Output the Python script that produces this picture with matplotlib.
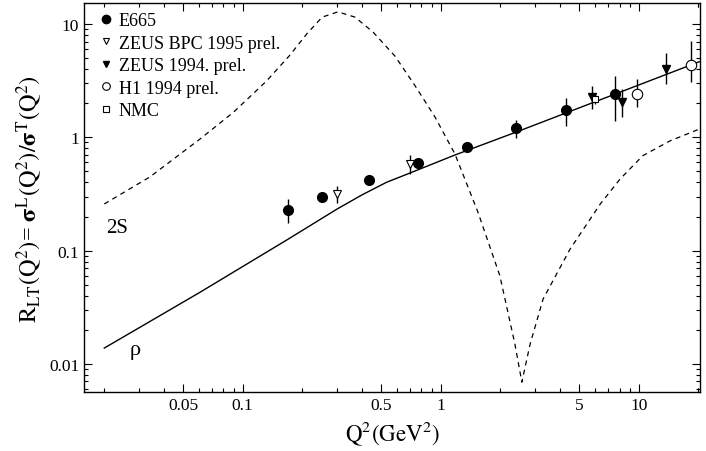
import numpy as np
import matplotlib
matplotlib.use("Agg")
import matplotlib.pyplot as plt
from matplotlib.lines import Line2D
from matplotlib.ticker import FixedLocator, NullFormatter

plt.rcParams['font.family'] = ['Liberation Serif', 'DejaVu Serif']
plt.rcParams['mathtext.fontset'] = 'stix'

# E665
e665_q2 = [0.170, 0.252, 0.433, 0.765, 1.36, 2.40, 4.28, 7.56]
e665_r = [0.228, 0.295, 0.417, 0.593, 0.82, 1.21, 1.73, 2.43]
e665_lo = [0.175, 0.28, 0.40, 0.57, 0.74, 0.98, 1.25, 1.40]
e665_hi = [0.285, 0.31, 0.435, 0.615, 0.90, 1.43, 2.22, 3.45]
# ZEUS BPC 1995 prel.
bpc_q2 = [0.30, 0.70]
bpc_r = [0.316, 0.58]
bpc_lo = [0.263, 0.474]
bpc_hi = [0.372, 0.70]
# ZEUS 1994 prel.
z94_q2 = [5.83, 8.26, 13.8]
z94_r = [2.25, 2.04, 4.01]
z94_lo = [1.78, 1.50, 2.95]
z94_hi = [2.82, 2.67, 5.55]
# H1 1994 prel.
h1_q2 = [9.8, 18.3]
h1_r = [2.40, 4.37]
h1_lo = [1.84, 3.06]
h1_hi = [3.27, 7.03]
# NMC
nmc_q2 = [6.04]
nmc_r = [2.18]
nmc_lo = [1.95]
nmc_hi = [2.45]

# model curves (rho and 2S)
rho_q2 = [0.020, 0.0609, 0.170, 0.300, 0.40, 0.533, 0.700, 1.18, 2.40, 20.2]
rho_r = [0.0138, 0.0429, 0.1265, 0.233, 0.310, 0.401, 0.484, 0.698, 1.11, 4.64]
s2_q2 = [0.020, 0.034, 0.0609, 0.0897, 0.132, 0.173, 0.211, 0.252, 0.303, 0.369, 0.455,
         0.588, 0.733, 0.936, 1.18, 1.54, 1.99, 2.37, 2.57, 2.83, 3.29, 4.5, 6.4, 8.05,
         10.5, 14.4, 20.2]
s2_r = [0.258, 0.447, 0.966, 1.66, 3.14, 5.3, 8.2, 11.5, 12.8, 11.5, 8.5,
        5.2, 2.95, 1.51, 0.713, 0.22, 0.060, 0.015, 0.0069, 0.015, 0.0374, 0.103, 0.258, 0.428,
        0.689, 0.93, 1.18]

xticks = [0.05, 0.1, 0.5, 1, 5, 10]
xlabels = ['0.05', '0.1', '0.5', '1', '5', '10']
yticks = [0.01, 0.1, 1, 10]
ylabels = ['0.01', '0.1', '1', '10']

fig = plt.figure(figsize=(7.06, 4.52), dpi=100)
ax = fig.add_axes([0.119, 0.1305, 0.8725, 0.8605])

ax.plot(rho_q2, rho_r, color='black', lw=1.0)
ax.plot(s2_q2, s2_r, color='black', lw=0.9, dashes=(4, 3.5))


def errs(y, lo, hi):
    y = np.array(y)
    return [y - np.array(lo), np.array(hi) - y]


ekw = dict(ls='none', ecolor='black', elinewidth=1.0, capsize=0)
ax.errorbar(e665_q2, e665_r, yerr=errs(e665_r, e665_lo, e665_hi), marker='o', ms=7,
            mfc='black', mec='black', **ekw)
ax.errorbar(bpc_q2, bpc_r, yerr=errs(bpc_r, bpc_lo, bpc_hi), marker='v', ms=6,
            mfc='white', mec='black', mew=0.8, **ekw)
ax.errorbar(z94_q2, z94_r, yerr=errs(z94_r, z94_lo, z94_hi), marker='v', ms=6,
            mfc='black', mec='black', **ekw)
ax.errorbar(nmc_q2, nmc_r, yerr=errs(nmc_r, nmc_lo, nmc_hi), marker='s', ms=5,
            mfc='white', mec='black', mew=0.8, **ekw)
ax.errorbar(h1_q2, h1_r, yerr=errs(h1_r, h1_lo, h1_hi), marker='o', ms=7.5,
            mfc='white', mec='black', mew=0.8, **ekw)

ax.set_xscale('log')
ax.set_yscale('log')
ax.set_xlim(0.0158, 20.4)
ax.set_ylim(0.00565, 15.3)

ax.xaxis.set_major_locator(FixedLocator(xticks))
ax.set_xticklabels(xlabels)
xminor = [m * d for d in [0.01, 0.1, 1, 10] for m in range(2, 10)] + [20]
ax.xaxis.set_minor_locator(FixedLocator([v for v in xminor if v not in xticks]))
ax.xaxis.set_minor_formatter(NullFormatter())
ax.yaxis.set_major_locator(FixedLocator(yticks))
ax.set_yticklabels(ylabels)
yminor = [m * d for d in [0.001, 0.01, 0.1, 1, 10] for m in range(2, 10)]
ax.yaxis.set_minor_locator(FixedLocator(yminor))
ax.yaxis.set_minor_formatter(NullFormatter())
ax.tick_params(which='both', direction='in', top=True, right=True, labelsize=12.5, width=0.8)
ax.tick_params(which='major', length=6)
ax.tick_params(which='minor', length=3)
for s in ax.spines.values():
    s.set_linewidth(1.0)

ax.set_xlabel(r'$\mathrm{Q^2(GeV^2)}$', fontsize=16.5, labelpad=4)
ax.set_ylabel(r'$\mathrm{R_{LT}(Q^2)}$= $\mathbf{\sigma}^{\mathrm{L}}\mathrm{(Q^2)/}\mathbf{\sigma}^{\mathrm{T}}\mathrm{(Q^2)}$',
              fontsize=17.5, labelpad=3)

ax.text(0.0205, 0.16, '2S', fontsize=15, ha='left', va='center')
ax.text(0.027, 0.0135, 'ρ', fontsize=16, ha='left', va='center')

handles = [
    Line2D([], [], ls='none', marker='o', ms=6, mfc='black', mec='black'),
    Line2D([], [], ls='none', marker='v', ms=5, mfc='white', mec='black', mew=0.8),
    Line2D([], [], ls='none', marker='v', ms=5, mfc='black', mec='black'),
    Line2D([], [], ls='none', marker='o', ms=5.5, mfc='white', mec='black', mew=0.8),
    Line2D([], [], ls='none', marker='s', ms=4.5, mfc='white', mec='black', mew=0.8),
]
names = ['E665', 'ZEUS BPC 1995 prel.', 'ZEUS 1994. prel.', 'H1 1994 prel.', 'NMC']
ax.legend(handles, names, loc='upper left', bbox_to_anchor=(0.015, 0.99), frameon=False,
          fontsize=13, handlelength=0.8, handletextpad=0.3, labelspacing=0.3,
          borderpad=0.3, borderaxespad=0)

fig.savefig('out.png', dpi=100)
